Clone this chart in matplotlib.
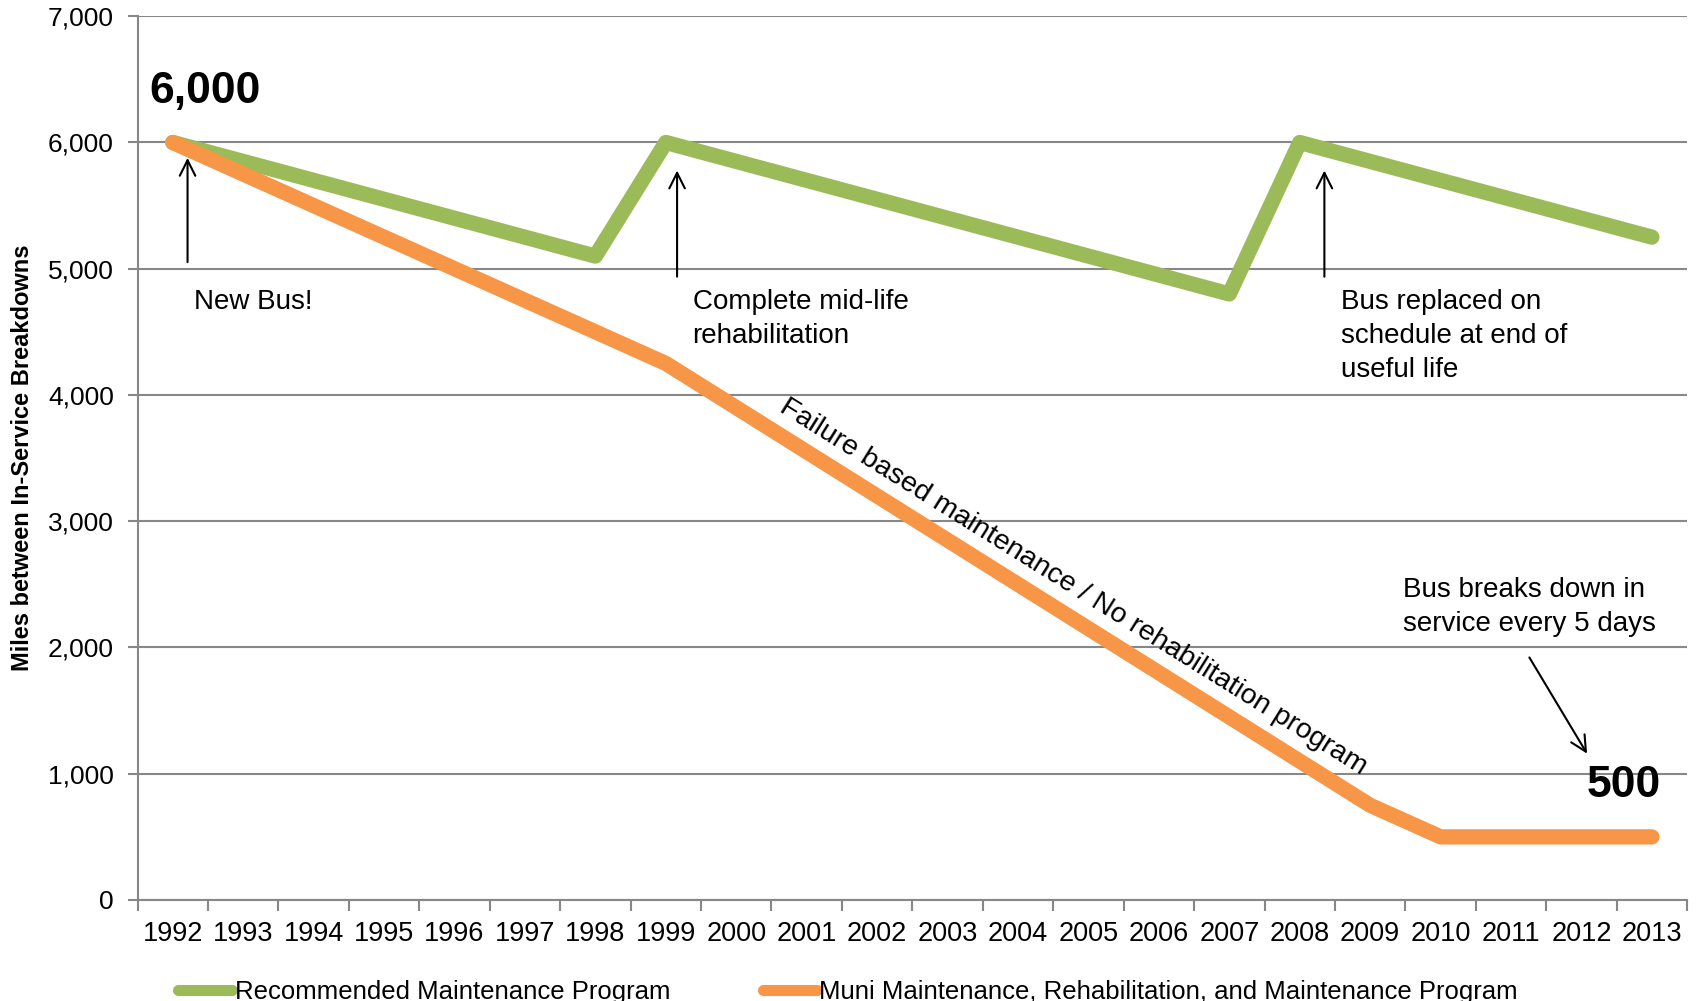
import numpy as np
import matplotlib.pyplot as plt

years = [str(y) for y in range(1992, 2014)]
recommended = [6000, 5850, 5700, 5550, 5400, 5250, 5100,
               6000, 5850, 5700, 5550, 5400, 5250, 5100, 4950, 4800,
               6000, 5850, 5700, 5550, 5400, 5250]
muni = [6000, 5750, 5500, 5250, 5000, 4750, 4500,
        4250, 3900, 3550, 3200, 2850, 2500, 2150, 1800, 1450, 1100,
        750, 500, 500, 500, 500]
yticks = [0, 1000, 2000, 3000, 4000, 5000, 6000, 7000]

green = "#9BBB59"
orange = "#F79646"
grid_col = "#878787"
plain = ["Liberation Sans", "DejaVu Sans"]

fig = plt.figure(figsize=(16.98, 10.01), dpi=100)
ax = fig.add_axes([0.081, 0.1009, 0.9126, 0.8829])
x = np.arange(len(years))

ax.plot(x, recommended, color=green, lw=11, solid_capstyle="round",
        solid_joinstyle="round", label="Recommended Maintenance Program", zorder=3)
ax.plot(x, muni, color=orange, lw=11, solid_capstyle="round",
        solid_joinstyle="round",
        label="Muni Maintenance, Rehabilitation, and Maintenance Program", zorder=3)

ax.set_xlim(-0.5, len(years) - 0.5)
ax.set_ylim(0, 7000)
ax.set_yticks(yticks)
ax.set_yticklabels([f"{v:,}" for v in yticks], fontfamily=plain, fontsize=19)
ax.set_xticks(x)
ax.set_xticklabels(years, fontfamily=plain, fontsize=19.5)
ax.set_xticks(np.arange(-0.5, len(years)), minor=True)
ax.tick_params(axis="x", which="major", length=0, pad=15)
ax.tick_params(axis="x", which="minor", length=8, color=grid_col, width=1.5)
ax.tick_params(axis="y", length=7, color=grid_col, width=1.5, pad=10)

ax.grid(axis="y", color=grid_col, lw=1.5)
ax.set_axisbelow(True)
for s in ["top", "right"]:
    ax.spines[s].set_visible(False)
for s in ["left", "bottom"]:
    ax.spines[s].set_color(grid_col)
    ax.spines[s].set_linewidth(1.5)

ax.set_ylabel("Miles between In-Service Breakdowns", fontfamily=plain,
              fontsize=17, fontweight="bold")
ax.yaxis.set_label_coords(-0.067, 0.5)

# annotations
note = dict(fontfamily=plain, fontsize=20, linespacing=1.4, va="top")
arrow = dict(arrowstyle="->", color="black", lw=1.5, mutation_scale=28)
ax.annotate("", xy=(0.21, 5900), xytext=(0.21, 5030), arrowprops=arrow)
ax.annotate("", xy=(7.16, 5800), xytext=(7.16, 4915), arrowprops=arrow)
ax.annotate("", xy=(16.35, 5800), xytext=(16.35, 4915), arrowprops=arrow)
ax.annotate("", xy=(20.1, 1140), xytext=(19.24, 1940), arrowprops=arrow)

ax.text(0.3, 4840, "New Bus!", **note)
ax.text(7.38, 4840, "Complete mid-life\nrehabilitation", **note)
ax.text(16.58, 4840, "Bus replaced on\nschedule at end of\nuseful life", **note)
ax.text(17.47, 2560, "Bus breaks down in\nservice every 5 days", **note)
ax.text(-0.33, 6400, "6,000", fontfamily=plain, fontsize=32, fontweight="bold",
        va="center", ha="left")
ax.text(21.13, 910, "500", fontfamily=plain, fontsize=32, fontweight="bold",
        va="center", ha="right")
ax.text(12.78, 2480, "Failure based maintenance / No rehabilitation program",
        fontfamily=plain, fontsize=20.5, rotation=-32, rotation_mode="anchor",
        ha="center", va="center")

leg = fig.legend(loc="center left", bbox_to_anchor=(0.105, 0.009), ncol=2,
                 frameon=False, prop={"family": plain, "size": 18.5},
                 handlelength=2.1, handletextpad=0.1, columnspacing=3.6,
                 borderpad=0, borderaxespad=0)
for ln in leg.get_lines():
    ln.set_solid_capstyle("round")
    ln.set_linewidth(8)

fig.savefig("out.png", dpi=100)
